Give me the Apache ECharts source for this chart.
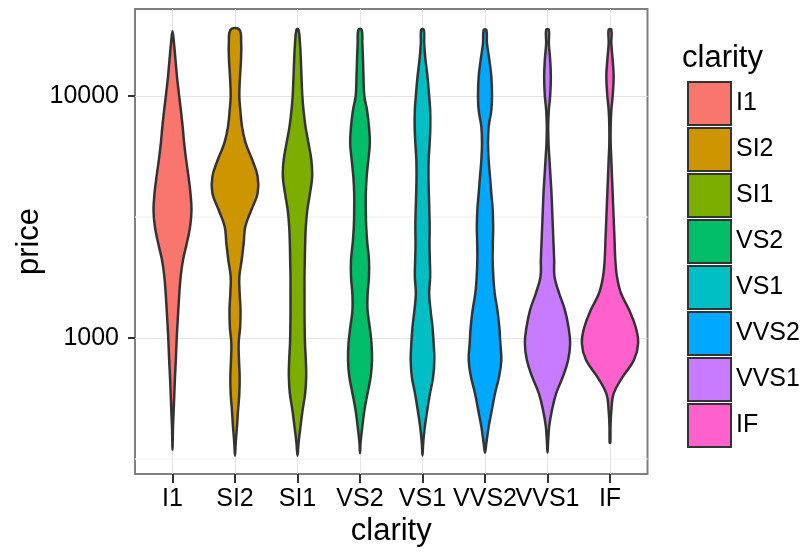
<!DOCTYPE html>
<html><head><meta charset="utf-8">
<script src="https://cdn.jsdelivr.net/npm/echarts@6/dist/echarts.min.js"></script>
<style>html,body{margin:0;padding:0;background:#fff}#c{width:805px;height:554px}</style>
</head><body><div id="c"></div>
<script>
// ---- data ----
const clarity = ['I1','SI2','SI1','VS2','VS1','VVS2','VVS1','IF'];
const colors = ['#F8766D','#CD9600','#7CAE00','#00BE67','#00BFC4','#00A9FF','#C77CFF','#FF61CC'];
const yTicks = [1000, 10000];
const yMinorTicks = [316.23, 3162.28];
const xTicks = [1,2,3,4,5,6,7,8];
const priceMin = [345, 326, 326, 334, 327, 336, 336, 369];
const priceMax = [18531, 18804, 18818, 18823, 18795, 18768, 18777, 18806];
// price levels at which violin density (relative width) was read
const priceGrid = [16500,14100,12000,10000,8750,7470,6380,5440,4640,3960,3380,2890,2460,2100,1790,1530,1310,1110,950,810,690,590,500,430,367];
const densTop = [0,26,6,10,8,8,8,8];
const densBottom = [0,0,0,0,0,0,0,2];
const densI1   = [9,18,27,40,50,61,70,82,96,108,114,106,86,63,49,41,35,29,24,20,15,11,7,3,1];
const densSI2  = [37,36,30,26,32,42,64,104,136,136,98,62,52,40,26,28,33,31,22,24,28,26,18,12,4];
const densSI1  = [15,20,24,29,36,48,66,83,88,75,59,50,46,44,42,42,42,43,45,50,52,46,30,18,6];
const densVS2  = [14,18,21,26,42,54,59,50,40,35,35,37,44,54,54,46,45,58,69,72,64,45,26,14,3];
const densVS1  = [10,18,30,40,46,47,43,37,36,38,41,43,42,44,46,40,48,60,67,71,64,45,28,14,4];
const densVVS2 = [12,26,38,42,38,22,18,22,30,38,46,49,47,46,50,58,74,86,92,98,84,60,40,22,8];
const densVVS1 = [8,16,20,16,8,4,6,12,18,24,28,32,36,40,42,70,104,126,136,124,92,52,26,10,3];
const densIF   = [8,16,22,16,8,4,4,8,12,16,20,24,28,32,42,66,114,154,169,144,76,22,8,3,null];
const densities = [densI1,densSI2,densSI1,densVS2,densVS1,densVVS2,densVVS1,densIF];

// ---- chart ----
const FONT = 'Liberation Sans, Arial, sans-serif';
let dMax = 0;
densities.forEach(a => a.forEach(v => { if (v != null && v > dMax) dMax = v; }));
const half = d => d / dMax * 0.9 / 2;

function makeRender(i) {
  const dens = densities[i];
  return function (params, api) {
    const x = api.value(0);
    const pts = [[priceMax[i], densTop[i]]];
    priceGrid.forEach((p, k) => {
      if (p < priceMax[i] && p > priceMin[i] && dens[k] != null) pts.push([p, dens[k]]);
    });
    pts.push([priceMin[i], densBottom[i]]);
    const right = pts.map(([p, d]) => api.coord([x + half(d), p]));
    let left = pts.map(([p, d]) => api.coord([x - half(d), p]));
    if (densTop[i] === 0) left = left.slice(1);
    if (densBottom[i] === 0) left = left.slice(0, -1);
    left.reverse();
    return {
      type: 'polygon',
      shape: { points: right.concat(left), smooth: 0.4 },
      style: { fill: colors[i], stroke: '#333333', lineWidth: 2.5, lineJoin: 'round' }
    };
  };
}

const series = clarity.map((c, i) => ({
  type: 'custom',
  name: c,
  data: [[i + 1, priceMin[i], priceMax[i]]],
  encode: { x: 0, y: [1, 2] },
  itemStyle: { color: colors[i], borderColor: '#333333', borderWidth: 2 },
  renderItem: makeRender(i),
  silent: true
}));

const chart = echarts.init(document.getElementById('c'), null, { renderer: 'canvas' });
chart.setOption({
  animation: false,
  color: colors,
  textStyle: { fontFamily: FONT },
  title: {
    text: 'clarity', left: 682, top: 43, padding: 0,
    textStyle: { fontSize: 31, fontWeight: 'normal', color: '#000', fontFamily: FONT }
  },
  legend: {
    orient: 'vertical', left: 682, top: 76,
    itemWidth: 43, itemHeight: 43, itemGap: 1,
    icon: 'rect',
    itemStyle: { borderColor: '#333333', borderWidth: 2 },
    textStyle: { fontSize: 25, color: '#000', fontFamily: FONT },
    data: clarity
  },
  grid: {
    left: 135, right: 805 - 647.5, top: 9, bottom: 554 - 474,
    show: true, borderColor: '#7f7f7f', borderWidth: 2, backgroundColor: 'transparent'
  },
  xAxis: {
    type: 'value', min: 0.4, max: 8.6,
    name: 'clarity', nameLocation: 'middle', nameGap: 42, nameMoveOverlap: false,
    nameTextStyle: { fontSize: 31, color: '#000', fontFamily: FONT },
    axisLine: { show: false },
    axisTick: { show: true, length: 9, customValues: xTicks, lineStyle: { color: '#333', width: 2 } },
    axisLabel: {
      customValues: xTicks, margin: 13, fontSize: 25, color: '#000', fontFamily: FONT,
      formatter: v => clarity[Math.round(v) - 1]
    },
    splitLine: { show: true, lineStyle: { color: '#e3e3e3', width: 1 } }
  },
  yAxis: [{
    type: 'log', logBase: 10, min: 274, max: 22880,
    name: 'price', nameLocation: 'middle', nameGap: 90, nameMoveOverlap: false,
    nameTextStyle: { fontSize: 31, color: '#000', fontFamily: FONT },
    axisLine: { show: false },
    axisTick: { show: true, length: 7, customValues: yTicks, lineStyle: { color: '#333', width: 2 } },
    axisLabel: {
      customValues: yTicks, margin: 16, fontSize: 25, color: '#000', fontFamily: FONT,
      formatter: v => String(Math.round(v))
    },
    splitLine: { show: true, lineStyle: { color: '#e3e3e3', width: 1 } }
  }, {
    type: 'log', logBase: 10, min: 274, max: 22880, position: 'left',
    axisLine: { show: false },
    axisTick: { show: false, customValues: yMinorTicks },
    axisLabel: { show: false, customValues: yMinorTicks },
    splitLine: { show: true, lineStyle: { color: '#f5f5f5', width: 1.5 } }
  }],
  series: series
});
</script>
</body></html>
